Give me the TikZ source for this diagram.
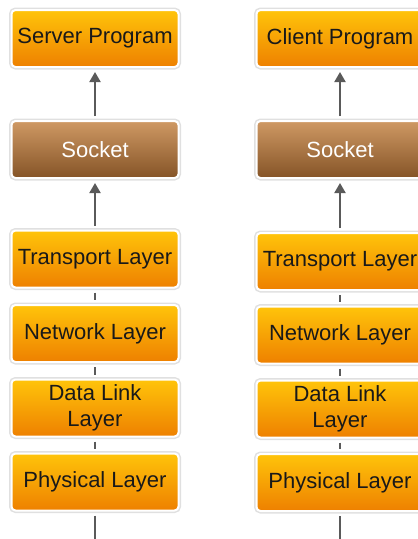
\documentclass[tikz,border=0pt]{standalone}
\usepackage{fontspec}
\setmainfont{Liberation Sans}
\usepackage{tikz}
\usetikzlibrary{positioning,arrows.meta}
\definecolor{ambertop}{HTML}{FFC40A}
\definecolor{amberbot}{HTML}{EE8000}
\definecolor{socktop}{HTML}{CF9964}
\definecolor{sockbot}{HTML}{855427}
\definecolor{wire}{HTML}{5A5A5A}

\begin{document}
\begin{tikzpicture}[x=1pt, y=-1pt,
  layer/.style={draw=white, line width=2pt, rounded corners=4pt, minimum width=167pt, minimum height=57pt, inner sep=0pt, align=center, top color=ambertop, bottom color=amberbot, text=black!90, font=\fontsize{22}{26}\selectfont, preaction={draw=black!12, line width=5pt}},
  sock/.style={layer, top color=socktop, bottom color=sockbot, text=white},
  up/.style={draw=wire, line width=2pt, -{Triangle[width=11pt,length=10pt]}, shorten >=4pt, shorten <=4pt},
  link/.style={draw=wire, line width=2pt, shorten >=4pt, shorten <=4pt}]
\useasboundingbox (0,0) rectangle (418,539);
\node[layer] (sprog) at (95,38.5) {Server Program};
\node[sock] (ssock) at (95,149.5) {Socket};
\node[layer] (strans) at (95,259) {Transport Layer};
\node[layer] (snet) at (95,333.5) {Network Layer};
\node[layer] (slink) at (95,408) {Data Link\\Layer};
\node[layer] (sphys) at (95,482) {Physical Layer};
\coordinate (send) at (95,550);
\node[layer] (cprog) at (340,38.5) {Client Program};
\node[sock] (csock) at (340,149.5) {Socket};
\node[layer] (ctrans) at (340,261.5) {Transport Layer};
\node[layer] (cnet) at (340,335) {Network Layer};
\node[layer] (clink) at (340,409) {Data Link\\Layer};
\node[layer] (cphys) at (340,482.5) {Physical Layer};
\coordinate (cend) at (340,550);
\draw[up] (ssock) -- (sprog);
\draw[up] (strans) -- (ssock);
\draw[link] (strans) -- (snet);
\draw[link] (snet) -- (slink);
\draw[link] (slink) -- (sphys);
\draw[link] (sphys) -- (send);
\draw[up] (csock) -- (cprog);
\draw[up] (ctrans) -- (csock);
\draw[link] (ctrans) -- (cnet);
\draw[link] (cnet) -- (clink);
\draw[link] (clink) -- (cphys);
\draw[link] (cphys) -- (cend);
\end{tikzpicture}
\end{document}
